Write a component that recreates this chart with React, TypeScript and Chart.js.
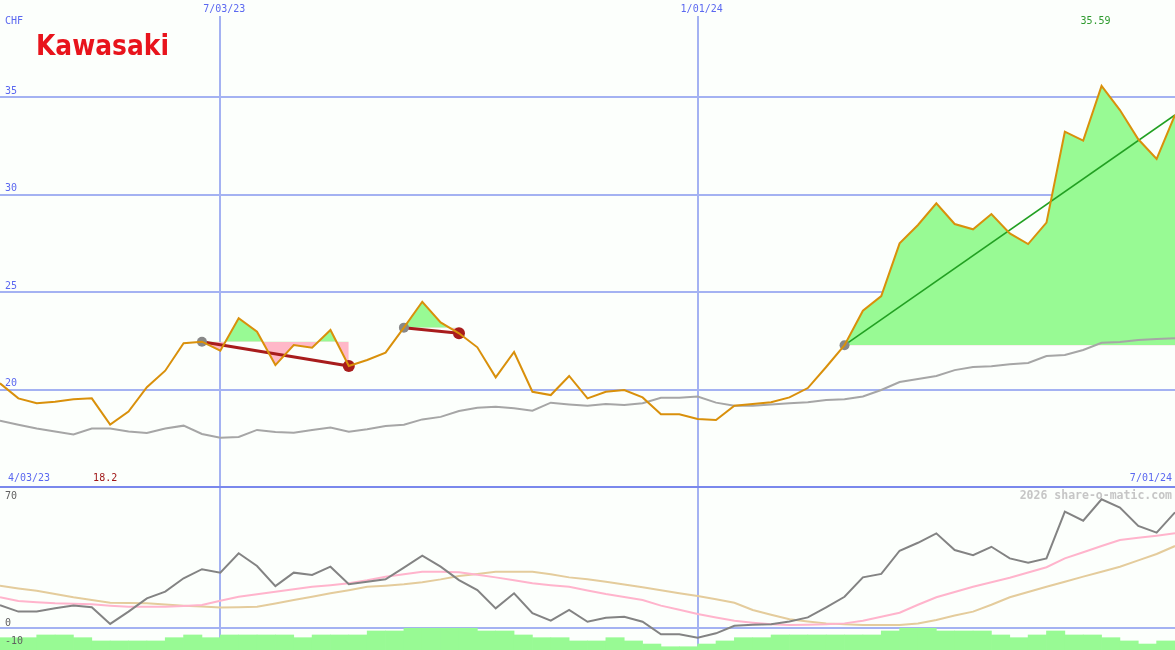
import React, { useEffect, useRef } from 'react';
import { Chart, registerables } from 'chart.js';

Chart.register(...registerables);

const W = 1175;
const TOP_H = 487;
const BOT_H = 163;

const currency = 'CHF';
const company = 'Kawasaki';
const startLabel = '4/03/23';
const endLabel = '7/01/24';
const gridWeekIdx = [12, 38];
const gridWeekLabels = ['7/03/23', '1/01/24'];
const priceTicks = [20, 25, 30, 35];
const oscTicks = [70, 0, -10];
const watermark = '2026 share-o-matic.com';

const PRICE_MIN = 15;
const PRICE_MAX = 40;
const OSC_MIN = -12;
const OSC_MAX = 78;

// weekly closing prices (CHF)
const price = [
  20.32, 19.55, 19.3, 19.38, 19.5, 19.55, 18.2, 18.87, 20.12, 20.97,
  22.38, 22.46, 22.0, 23.66, 22.97, 21.26, 22.29, 22.15, 23.06, 21.21,
  21.52, 21.9, 23.18, 24.51, 23.45, 22.89, 22.17, 20.63, 21.93, 19.89,
  19.72, 20.7, 19.55, 19.89, 19.98, 19.6, 18.73, 18.73, 18.49, 18.44,
  19.17, 19.26, 19.35, 19.6, 20.08, 21.16, 22.28, 24.05, 24.8, 27.51,
  28.45, 29.56, 28.5, 28.23, 29.01, 28.02, 27.47, 28.57, 33.24, 32.78,
  35.59, 34.35, 32.85, 31.84, 34.1,
];

// moving average (grey line, top panel)
const average = [
  18.4, 18.2, 18.0, 17.85, 17.7, 18.0, 18.0, 17.85, 17.77, 18.0,
  18.15, 17.72, 17.53, 17.57, 17.93, 17.82, 17.79, 17.93, 18.05, 17.84,
  17.96, 18.13, 18.2, 18.47, 18.6, 18.9, 19.07, 19.12, 19.04, 18.92,
  19.33, 19.24, 19.17, 19.26, 19.21, 19.3, 19.58, 19.58, 19.64, 19.33,
  19.17, 19.17, 19.24, 19.3, 19.35, 19.47, 19.5, 19.65, 19.98, 20.39,
  20.54, 20.7, 21.0, 21.16, 21.2, 21.3, 21.37, 21.72, 21.78, 22.03,
  22.4, 22.44, 22.55, 22.6, 22.63,
];

// oscillator (dark grey, bottom panel)
const oscillator = [
  12.8, 9.2, 9.2, 11.0, 12.5, 11.6, 2.4, 9.2, 16.5, 20.2,
  27.6, 32.6, 30.7, 41.4, 34.4, 23.3, 30.7, 29.4, 34.0, 24.3,
  25.7, 27.0, 33.5, 40.1, 34.0, 26.6, 21.1, 11.0, 19.3, 8.3,
  4.2, 10.1, 3.6, 5.8, 6.4, 3.6, -3.3, -3.3, -5.2, -2.8,
  1.4, 2.0, 2.2, 3.7, 6.0, 11.6, 17.4, 28.1, 30.0, 42.8,
  47.2, 52.4, 43.2, 40.4, 45.0, 38.6, 36.2, 38.6, 64.4, 59.4,
  71.2, 66.6, 56.5, 52.8, 64.0,
];

// fast signal (pink)
const signalFast = [
  17.1, 15.1, 14.4, 13.8, 13.5, 13.2, 12.5, 11.9, 11.9, 11.9,
  12.3, 12.8, 15.2, 17.4, 18.8, 20.2, 21.5, 22.9, 23.8, 24.8,
  26.5, 28.5, 29.8, 31.2, 31.2, 30.9, 29.5, 28.1, 26.5, 24.8,
  23.8, 22.9, 20.9, 18.9, 17.3, 15.6, 12.5, 10.2, 7.9, 6.0,
  4.2, 3.1, 2.2, 1.8, 2.0, 2.2, 2.7, 4.2, 6.4, 8.6,
  13.0, 17.1, 20.0, 22.9, 25.4, 27.9, 30.8, 33.7, 38.6, 42.0,
  45.4, 48.7, 50.0, 51.1, 52.4,
];

// slow signal (tan)
const signalSlow = [
  23.5, 22.0, 20.7, 18.9, 17.1, 15.6, 14.1, 13.9, 13.8, 13.1,
  12.5, 12.0, 11.4, 11.6, 11.9, 13.7, 15.6, 17.4, 19.3, 21.0,
  22.9, 23.5, 24.3, 25.4, 27.0, 28.9, 30.0, 31.2, 31.2, 31.2,
  29.8, 28.1, 27.0, 25.7, 24.2, 22.6, 21.0, 19.3, 17.8, 16.0,
  14.1, 10.1, 7.5, 5.0, 3.8, 2.7, 2.2, 1.8, 1.8, 1.8,
  2.6, 4.6, 7.0, 9.2, 13.0, 17.1, 20.0, 22.9, 25.7, 28.5,
  31.2, 34.0, 37.5, 41.0, 45.4,
];

// green histogram at the bottom (one block per week)
const flow = [
  -5.2, -5.2, -3.7, -3.7, -5.2, -7.0, -7.0, -7.0, -7.0, -5.2,
  -3.7, -5.2, -3.7, -3.7, -3.7, -3.7, -5.2, -3.7, -3.7, -3.7,
  -1.5, -1.5, 0, 0, 0, 0, -1.5, -1.5, -3.7, -5.2,
  -5.2, -7.0, -7.0, -5.2, -7.0, -8.7, -10.2, -10.2, -8.7, -7.0,
  -5.2, -5.2, -3.7, -3.7, -3.7, -3.7, -3.7, -3.7, -1.5, 0,
  0, -1.5, -1.5, -1.5, -3.7, -5.2, -3.7, -1.5, -3.7, -3.7,
  -5.2, -7.0, -8.7, -7.0,
];

// trend segments (week index from -> to)
const trendFrom = [11, 22, 46];
const trendTo = [19, 25, 64];

const BG = '#fcfffc';
const GRID = '#a4b2f2';
const SEP = '#7a88ec';
const LABEL_BLUE = '#5b68f0';
const ORANGE = '#d9900b';
const AVG_GREY = '#a6a6a6';
const OSC_GREY = '#838383';
const PINK_LINE = '#ffb4cc';
const TAN_LINE = '#e4cc9c';
const GREEN_FILL = '#98fa94';
const PINK_FILL = '#ffb8c8';
const DOWN = '#a81c1c';
const UP = '#22a022';
const MARK_GREY = '#888888';

const MONO = '"DejaVu Sans Mono", monospace';

const pts = (arr: number[]) => arr.map((v, i) => ({ x: i, y: v }));

const topDecor = {
  id: 'topDecor',
  beforeDatasetsDraw(chart: any) {
    const { ctx, scales, width, height } = chart;
    const x = scales.x;
    const y = scales.y;
    ctx.save();
    ctx.fillStyle = GRID;
    for (const t of priceTicks) {
      const py = Math.round(y.getPixelForValue(t));
      ctx.fillRect(0, py - 1, width, 2);
    }
    for (const w of gridWeekIdx) {
      const px = Math.round(x.getPixelForValue(w));
      ctx.fillRect(px - 1, 16, 2, height - 16);
    }
    ctx.restore();
  },
  afterDatasetsDraw(chart: any) {
    const { ctx, scales, width, height } = chart;
    const x = scales.x;
    const y = scales.y;
    ctx.save();
    ctx.font = `10px ${MONO}`;
    ctx.textBaseline = 'middle';
    ctx.fillStyle = LABEL_BLUE;
    ctx.textAlign = 'left';
    ctx.fillText(currency, 5, 21);
    for (const t of priceTicks) {
      ctx.fillText(String(t), 5, y.getPixelForValue(t) - 6);
    }
    ctx.textAlign = 'center';
    gridWeekIdx.forEach((w, k) => {
      ctx.fillText(gridWeekLabels[k], x.getPixelForValue(w) + 4, 9);
    });
    ctx.textAlign = 'left';
    ctx.fillText(startLabel, 8, 478);
    ctx.textAlign = 'right';
    ctx.fillText(endLabel, width - 3, 478);

    const minV = Math.min(...price);
    const minI = price.indexOf(minV);
    const maxV = Math.max(...price);
    const maxI = price.indexOf(maxV);
    ctx.textAlign = 'center';
    ctx.fillStyle = '#a01818';
    ctx.fillText(String(minV), x.getPixelForValue(minI) - 5, 478);
    ctx.fillStyle = '#2e9a2e';
    ctx.fillText(maxV.toFixed(2), x.getPixelForValue(maxI) - 6, 21);

    // logo text
    ctx.font = 'bold 28px "DejaVu Sans", "Liberation Sans", sans-serif';
    ctx.fillStyle = '#e8141c';
    ctx.textAlign = 'left';
    ctx.textBaseline = 'alphabetic';
    const tw = ctx.measureText(company).width;
    ctx.translate(36, 55);
    ctx.scale(133 / tw, 1);
    ctx.fillText(company, 0, 0);
    ctx.setTransform(1, 0, 0, 1, 0, 0);

    ctx.fillStyle = SEP;
    ctx.fillRect(0, height - 1, width, 1);
    ctx.restore();
  },
};

const botDecor = {
  id: 'botDecor',
  beforeDatasetsDraw(chart: any) {
    const { ctx, scales, width, height } = chart;
    const x = scales.x;
    const y = scales.y;
    ctx.save();
    ctx.fillStyle = GRID;
    const py = Math.round(y.getPixelForValue(0));
    ctx.fillRect(0, py - 1, width, 2);
    for (const w of gridWeekIdx) {
      const px = Math.round(x.getPixelForValue(w));
      ctx.fillRect(px - 1, 0, 2, height);
    }
    ctx.restore();
  },
  afterDatasetsDraw(chart: any) {
    const { ctx, scales, width } = chart;
    const y = scales.y;
    ctx.save();
    ctx.font = `10px ${MONO}`;
    ctx.textBaseline = 'middle';
    ctx.textAlign = 'left';
    ctx.fillStyle = '#606060';
    for (const t of oscTicks) {
      ctx.fillText(String(t), 5, y.getPixelForValue(t) - 5);
    }
    ctx.font = `bold 11.5px ${MONO}`;
    ctx.fillStyle = '#c6c6c6';
    ctx.textAlign = 'right';
    ctx.fillText(watermark, width - 3, 9);
    ctx.fillStyle = SEP;
    ctx.fillRect(0, 0, width, 1);
    ctx.restore();
  },
};

export default function App() {
  const topRef = useRef<HTMLCanvasElement>(null);
  const botRef = useRef<HTMLCanvasElement>(null);

  useEffect(() => {
    const fillSets: any[] = trendFrom.map((from, k) => {
      const to = trendTo[k];
      const seg = [];
      for (let i = from; i <= to; i++) seg.push({ x: i, y: price[i] });
      return {
        data: seg,
        borderWidth: 0,
        borderColor: 'rgba(0,0,0,0)',
        pointRadius: 0,
        tension: 0,
        fill: { target: { value: price[from] }, above: GREEN_FILL, below: PINK_FILL },
        order: 5,
      };
    });
    const trendSets: any[] = trendFrom.map((from, k) => {
      const to = trendTo[k];
      const up = price[to] > price[from];
      return {
        data: [
          { x: from, y: price[from] },
          { x: to, y: price[to] },
        ],
        borderColor: up ? UP : DOWN,
        borderWidth: up ? 1.6 : 3,
        pointRadius: up ? [5, 0] : [5, 6],
        pointBackgroundColor: [MARK_GREY, up ? 'rgba(0,0,0,0)' : DOWN],
        pointBorderWidth: 0,
        tension: 0,
        fill: false,
        order: 2,
      };
    });

    const common: any = {
      animation: false,
      responsive: false,
      devicePixelRatio: 1,
      events: [],
      layout: { padding: 0, autoPadding: false },
      plugins: { legend: { display: false }, tooltip: { enabled: false } },
    };

    const top = new Chart(topRef.current as HTMLCanvasElement, {
      type: 'line',
      data: {
        datasets: [
          ...fillSets,
          {
            data: pts(average),
            borderColor: AVG_GREY,
            borderWidth: 2,
            pointRadius: 0,
            tension: 0,
            fill: false,
            order: 3,
          },
          ...trendSets,
          {
            data: pts(price),
            borderColor: ORANGE,
            borderWidth: 2,
            pointRadius: 0,
            tension: 0,
            fill: false,
            order: 1,
          },
        ],
      },
      options: {
        ...common,
        scales: {
          x: { type: 'linear', min: 0, max: price.length - 1, display: false, offset: false },
          y: { type: 'linear', min: PRICE_MIN, max: PRICE_MAX, display: false },
        },
      },
      plugins: [topDecor],
    } as any);

    const bot = new Chart(botRef.current as HTMLCanvasElement, {
      type: 'line',
      data: {
        datasets: [
          {
            type: 'bar',
            data: flow.map((v, i) => ({ x: i + 0.5, y: [OSC_MIN, v] })),
            backgroundColor: GREEN_FILL,
            borderWidth: 0,
            barPercentage: 1,
            categoryPercentage: 1,
            order: 5,
          },
          {
            data: pts(signalSlow),
            borderColor: TAN_LINE,
            borderWidth: 2,
            pointRadius: 0,
            tension: 0,
            fill: false,
            order: 3,
          },
          {
            data: pts(signalFast),
            borderColor: PINK_LINE,
            borderWidth: 2,
            pointRadius: 0,
            tension: 0,
            fill: false,
            order: 2,
          },
          {
            data: pts(oscillator),
            borderColor: OSC_GREY,
            borderWidth: 2,
            pointRadius: 0,
            tension: 0,
            fill: false,
            order: 1,
          },
        ],
      },
      options: {
        ...common,
        scales: {
          x: { type: 'linear', min: 0, max: price.length - 1, display: false, offset: false },
          y: { type: 'linear', min: OSC_MIN, max: OSC_MAX, display: false },
        },
      },
      plugins: [botDecor],
    } as any);

    return () => {
      top.destroy();
      bot.destroy();
    };
  }, []);

  return (
    <div
      style={{
        position: 'absolute',
        left: 0,
        top: 0,
        width: W,
        height: TOP_H + BOT_H,
        background: BG,
        overflow: 'hidden',
      }}
    >
      <canvas
        ref={topRef}
        width={W}
        height={TOP_H}
        style={{ display: 'block', width: W, height: TOP_H }}
      />
      <canvas
        ref={botRef}
        width={W}
        height={BOT_H}
        style={{ display: 'block', width: W, height: BOT_H }}
      />
    </div>
  );
}
